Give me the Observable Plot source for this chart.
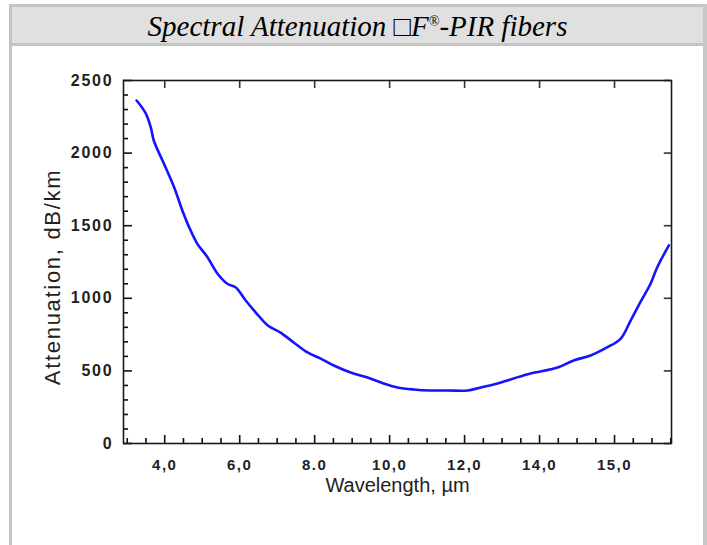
<!DOCTYPE html>
<html><head><meta charset="utf-8">
<script src="https://cdn.jsdelivr.net/npm/d3@7"></script>
<script src="https://cdn.jsdelivr.net/npm/@observablehq/plot@0.6"></script>
<style>
html,body{margin:0;padding:0;background:#fff;}
body{width:707px;height:545px;overflow:hidden;position:relative;font-family:"Liberation Sans",Arial,sans-serif;}
#boxTop{position:absolute;left:9px;top:4px;width:698px;height:3px;background:#c4c4c4;}
#boxLeft{position:absolute;left:9px;top:4px;width:3px;height:541px;background:#c4c4c4;}
#boxRight{position:absolute;left:703px;top:4px;width:4px;height:541px;background:#c8c8c8;}
#title{position:absolute;left:12px;top:7px;width:691px;height:36px;background:#e0e0e0;border-bottom:3px solid #c4c4c4;
  font-family:"Liberation Serif","Times New Roman",serif;font-style:italic;font-size:29px;line-height:39px;text-align:center;color:#000;letter-spacing:0px;box-sizing:content-box;white-space:nowrap;overflow:hidden;}
#title sup{font-size:14px;vertical-align:0;position:relative;top:-10px;}
#chart{position:absolute;left:0;top:44px;}
</style>
</head><body>
<div id="boxTop"></div><div id="boxLeft"></div><div id="boxRight"></div>
<div id="title"></div>
<div id="chart"></div>
<script>
const titleMain = "Spectral Attenuation \u25A1F";
const titleMark = "\u00AE";
const titleEnd = "-PIR fibers";
const xLabel = "Wavelength, \u00B5m";
const yLabel = "Attenuation, dB/km";

const wavelength = [3.25,3.49,3.63,3.71,3.98,4.25,4.47,4.65,4.87,5.14,5.41,5.67,5.89,6.16,6.43,6.75,7.09,7.44,7.81,8.16,8.51,8.96,9.41,9.84,10.21,10.64,11.09,11.55,12.08,12.43,12.88,13.31,13.76,14.48,14.91,15.36,15.81,16.16,16.43,16.69,16.96,17.14,17.45];
const attenuation = [2362,2275,2175,2085,1926,1765,1605,1490,1375,1283,1169,1100,1076,985,902,813,764,696,627,585,537,489,455,413,386,372,365,365,365,386,413,448,482,523,572,606,663,721,847,973,1100,1214,1364];

const xTicks = [4,6,8,10,12,14,16];
const xTickLabels = ["4,0","6,0","8.0","10,0","12,0","14,0","15,0"];
const xMinorTicks = d3.range(3.0, 17.51, 0.5).filter(v => !xTicks.includes(v));
const yTicks = [0,500,1000,1500,2000,2500];
const yMinorTicks = d3.range(100, 2500, 100).filter(v => !yTicks.includes(v));

const t = document.getElementById("title");
t.append(titleMain);
const sup = document.createElement("sup"); sup.textContent = titleMark; t.append(sup);
t.append(titleEnd);

const data = wavelength.map((w,i) => ({w, a: attenuation[i]}));
const xDomain = [2.9, 17.52], yDomain = [0, 2500];
const W = 707, H = 501, mL = 123, mR = 36, mT = 36, mB = 102;
const iw = W - mL - mR, ih = H - mT - mB;
// tick lengths in pixels converted to data units
const yPer = (yDomain[1] - yDomain[0]) / ih, xPer = (xDomain[1] - xDomain[0]) / iw;
const yMaj = 8 * yPer, yMin = 5 * yPer, xMaj = 9 * xPer, xMin = 5 * xPer;

const chart = Plot.plot({
  width: W, height: H,
  marginLeft: mL, marginRight: mR, marginTop: mT, marginBottom: mB,
  style: {fontFamily: "Liberation Sans, Arial, sans-serif", background: "transparent", overflow: "visible"},
  x: {domain: xDomain},
  y: {domain: yDomain},
  marks: [
    Plot.axisX(xTicks, {anchor: "bottom", tickSize: 0, tickPadding: 16, fontSize: 15, fontWeight: "bold", fill: "#222",
      tickFormat: d => xTickLabels[xTicks.indexOf(d)], label: null}),
    Plot.axisY(yTicks, {anchor: "left", tickSize: 0, tickPadding: 10, fontSize: 16, fontWeight: "bold", fill: "#222",
      tickFormat: d => String(d), label: null}),
    // inward ticks
    Plot.ruleX(xTicks, {x: d => d, y1: yDomain[0], y2: yDomain[0] + yMaj, stroke: "#111", strokeWidth: 1.6}),
    Plot.ruleX(xMinorTicks, {x: d => d, y1: yDomain[0], y2: yDomain[0] + yMin, stroke: "#111", strokeWidth: 1.6}),
    Plot.ruleX(xTicks, {x: d => d, y1: yDomain[1], y2: yDomain[1] - yMaj, stroke: "#333", strokeWidth: 1.6}),
    Plot.ruleY(yTicks, {y: d => d, x1: xDomain[0], x2: xDomain[0] + xMaj, stroke: "#111", strokeWidth: 1.6}),
    Plot.ruleY(yMinorTicks, {y: d => d, x1: xDomain[0], x2: xDomain[0] + xMin, stroke: "#111", strokeWidth: 1.6}),
    Plot.ruleY(yTicks, {y: d => d, x1: xDomain[1], x2: xDomain[1] - xMaj * 0.8, stroke: "#333", strokeWidth: 1.6}),
    Plot.line(data, {x: "w", y: "a", stroke: "#1414ff", strokeWidth: 2.6, curve: "catmull-rom"}),
    Plot.frame({stroke: "#1a1a1a", strokeWidth: 1.6}),
    Plot.text([yLabel], {frameAnchor: "left", dx: -71, dy: 15, rotate: -90, fontSize: 22, fill: "#222", textAnchor: "middle", lineAnchor: "middle"}),
    Plot.text([xLabel], {frameAnchor: "bottom", dy: 42, fontSize: 20, fill: "#222", textAnchor: "middle", lineAnchor: "middle"})
  ]
});
// widen the stretched-looking glyphs of the original
d3.select(chart).selectAll("g[aria-label='y-axis tick label'] text").style("letter-spacing", "1.8px");
d3.select(chart).selectAll("g[aria-label='x-axis tick label'] text").style("letter-spacing", "1.5px");
d3.select(chart).selectAll("g[aria-label='text'] text").each(function() {
  const s = d3.select(this);
  if (s.text() === yLabel) s.style("letter-spacing", "1.7px");
});
document.getElementById("chart").appendChild(chart);
</script>
</body></html>
